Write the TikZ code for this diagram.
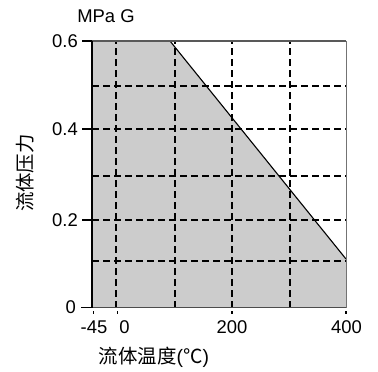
\documentclass[tikz,border=0pt]{standalone}
\usepackage{fontspec}
\setmainfont{Liberation Sans}
\newfontfamily\cjk{Noto Sans CJK SC}
\begin{document}
\begin{tikzpicture}[x=1bp,y=-1bp,
  lbl/.style={inner sep=0pt,font=\fontsize{18.5}{20}\selectfont},
  cjklbl/.style={inner sep=0pt,font=\fontsize{19.5}{21}\selectfont},
  gridline/.style={line width=1.7bp,dash pattern=on 7bp off 4bp},
  tickline/.style={line width=1.6bp},
  xtick/.style={line width=1.5bp}]
\useasboundingbox (0,0) rectangle (378,372);
% corners of the plot
\coordinate (bl) at (92,307.5);
\coordinate (tl) at (92,41);
\coordinate (tr) at (346,41);
\coordinate (br) at (346,307.5);
\coordinate (bend) at (170,41);
\coordinate (end) at (346,259);
% allowed region
\fill[black!20] (bl) -- (tl) -- (bend) -- (end) -- (br) -- cycle;
% grid
\begin{scope}
\clip (bl) rectangle (tr);
\foreach \gx in {116,175,232,290}
  \draw[gridline] (\gx,307.5) -- (\gx,41);
\foreach \gy in {85.7,128.7,176,219.7,261}
  \draw[gridline] (92,\gy) -- (346,\gy);
\end{scope}
% boundary
\draw[line width=1.1bp] (bend) -- (end);
\draw[black!65,line width=1.6bp] (tl) -- (tr);
\draw[black!55,line width=1bp] (tr) -- (br);
\draw[black!70,line width=1.2bp] (bl) -- (br);
\draw[line width=1.4bp] (bl) -- (tl);
% y ticks
\foreach \ty in {41,128.7,219.7}
  \draw[tickline] (82,\ty) -- (92,\ty);
\draw[line width=1bp] (81,307.5) -- (92,307.5);
% x ticks
\foreach \tx in {93.5,117.5,232,346}
  \draw[xtick] (\tx,311.3) -- (\tx,313.5);
% labels
\node[lbl,anchor=east] (y06) at (78,41) {0.6};
\node[lbl,anchor=east] (y04) at (78,128.7) {0.4};
\node[lbl,anchor=east] (y02) at (78,219.7) {0.2};
\node[lbl,anchor=east] (y00) at (76,307) {0};
\node[lbl,anchor=base] (xm45) at (94,333) {-45};
\node[lbl,anchor=base] (x0) at (124.5,333) {0};
\node[lbl,anchor=base] (x200) at (232,333) {200};
\node[lbl,anchor=base] (x400) at (346.5,333) {400};
\node[lbl] (unit) at (106,16.5) {MPa G};
\node[cjklbl,rotate=90] (ylab) at (25,173) {\cjk 流体压力};
\node[cjklbl] (xlab) at (154,357) {{\cjk 流体温度}({\cjk ℃})};
\end{tikzpicture}
\end{document}
